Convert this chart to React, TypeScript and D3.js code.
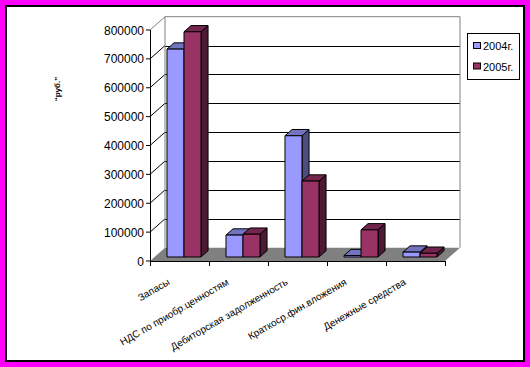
import React from "react";
import * as d3 from "d3";

const categories = [
  "Запасы",
  "НДС по приобр.ценностям",
  "Дебиторская задолженность",
  "Краткоср.фин.вложения",
  "Денежные средства",
];
const series2004 = [720000, 76000, 420000, 5000, 17000];
const series2005 = [780000, 79000, 263000, 94000, 13000];
const seriesNames = ["2004г.", "2005г."];
const yTicks = [0, 100000, 200000, 300000, 400000, 500000, 600000, 700000, 800000];
const axisTitle = "“руб.”";

const colors = [
  { front: "#9999FF", top: "#7373C0", side: "#4D4D80" },
  { front: "#993366", top: "#73264D", side: "#4D1A33" },
];

const DX = 15;
const DY = -13.3;
const F0 = 0.3;
const F1 = 0.77;
const FONT = "'Liberation Sans', Arial, sans-serif";

export default function App() {
  const y = d3.scaleLinear().domain([0, 800000]).range([261, 30]);
  const x = d3.scaleBand<string>().domain(categories).range([150, 445]).padding(0);
  const inner = d3
    .scaleBand<number>()
    .domain([0, 1])
    .range([0, x.bandwidth()])
    .paddingInner(0)
    .paddingOuter(0.735);

  const xL = 150, xR = 445;
  const y0 = y(0);
  const yTop = y(800000);

  const pt = (px: number, py: number, d: number) => [px + DX * d, py + DY * d];
  const poly = (pts: number[][]) => pts.map((p) => p.join(",")).join(" ");

  const bars: JSX.Element[] = [];
  categories.forEach((c, i) => {
    [series2004, series2005].forEach((s, si) => {
      const v = s[i];
      const bx0 = (x(c) as number) + (inner(si) as number);
      const bx1 = bx0 + inner.bandwidth();
      const yv = y(v);
      const col = colors[si];
      const front = [pt(bx0, y0, F0), pt(bx1, y0, F0), pt(bx1, yv, F0), pt(bx0, yv, F0)];
      const side = [pt(bx1, y0, F0), pt(bx1, y0, F1), pt(bx1, yv, F1), pt(bx1, yv, F0)];
      const top = [pt(bx0, yv, F0), pt(bx1, yv, F0), pt(bx1, yv, F1), pt(bx0, yv, F1)];
      bars.push(
        <g key={`b${i}-${si}`} stroke="#000" strokeWidth={1} strokeLinejoin="round">
          <polygon points={poly(side)} fill={col.side} />
          <polygon points={poly(top)} fill={col.top} />
          <polygon points={poly(front)} fill={col.front} />
        </g>
      );
    });
  });

  const floor = [pt(xL, y0, 0), pt(xR, y0, 0), pt(xR, y0, 1), pt(xL, y0, 1)];

  return (
    <svg
      width={530}
      height={367}
      style={{ position: "absolute", left: 0, top: 0, fontFamily: FONT }}
    >
      <rect x={0} y={0} width={530} height={367} fill="#FF00FF" />
      <rect x={6} y={6} width={518} height={355} fill="#fff" stroke="#000" strokeWidth={2} />

      {/* back wall gridlines */}
      {yTicks.slice(1, -1).map((t) => {
        const [ax, ay] = pt(xL, y(t), 1);
        const [bx, by] = pt(xR, y(t), 1);
        return (
          <line key={`g${t}`} x1={ax} y1={Math.round(ay) + 0.5} x2={bx} y2={Math.round(by) + 0.5} stroke="#000" strokeWidth={1} />
        );
      })}
      {/* side wall gridlines */}
      {yTicks.slice(1, -1).map((t) => {
        const [ax, ay] = pt(xL, y(t), 0);
        const [bx, by] = pt(xL, y(t), 1);
        return <line key={`s${t}`} x1={ax} y1={ay} x2={bx} y2={by} stroke="#000" strokeWidth={1} />;
      })}
      {/* wall edges */}
      {(() => {
        const a = pt(xL, yTop, 0);
        const b = pt(xL, yTop, 1);
        const c = pt(xR, yTop, 1);
        const d = pt(xR, y0, 1);
        const e = pt(xL, y0, 1);
        return (
          <g stroke="#808080" strokeWidth={1} fill="none">
            <polyline points={poly([a, b, c, d])} />
            <line x1={b[0]} y1={b[1]} x2={e[0]} y2={e[1]} />
          </g>
        );
      })()}

      <polygon points={poly(floor)} fill="#808080" />

      {bars}

      {/* value axis */}
      <line x1={xL + 0.5} y1={yTop} x2={xL + 0.5} y2={y0} stroke="#000" />
      {yTicks.map((t) => (
        <g key={`t${t}`}>
          <line x1={xL - 4} y1={y(t)} x2={xL} y2={y(t)} stroke="#000" />
          <text x={144} y={y(t) + 4.5} fontSize={12} textAnchor="end" fill="#000">
            {t}
          </text>
        </g>
      ))}
      <text
        transform={`translate(60,89) rotate(-90)`}
        fontSize={8}
        fontWeight="bold"
        textAnchor="middle"
        fill="#000"
      >
        {axisTitle}
      </text>

      {/* category axis */}
      <line x1={xL} y1={y0 + 0.5} x2={xR + 1} y2={y0 + 0.5} stroke="#000" />
      {[...categories.map((c) => x(c) as number), xR].map((px, i) => (
        <line key={`ct${i}`} x1={px + 0.5} y1={y0} x2={px + 0.5} y2={y0 + 5} stroke="#000" />
      ))}
      {categories.map((c) => {
        const cx = (x(c) as number) + x.bandwidth() / 2;
        return (
          <text
            key={`cl${c}`}
            transform={`translate(${cx - 9},284) rotate(-30)`}
            fontSize={10}
            textAnchor="end"
            fill="#000"
          >
            {c}
          </text>
        );
      })}

      {/* legend */}
      <rect x={467.5} y={33.5} width={52} height={46} fill="#fff" stroke="#000" />
      {seriesNames.map((n, i) => (
        <g key={n}>
          <rect x={473.5} y={42.5 + i * 20.5} width={7} height={6} fill={colors[i].front} stroke="#000" />
          <text x={483} y={50 + i * 20.5} fontSize={11} fill="#000">
            {n}
          </text>
        </g>
      ))}
    </svg>
  );
}
